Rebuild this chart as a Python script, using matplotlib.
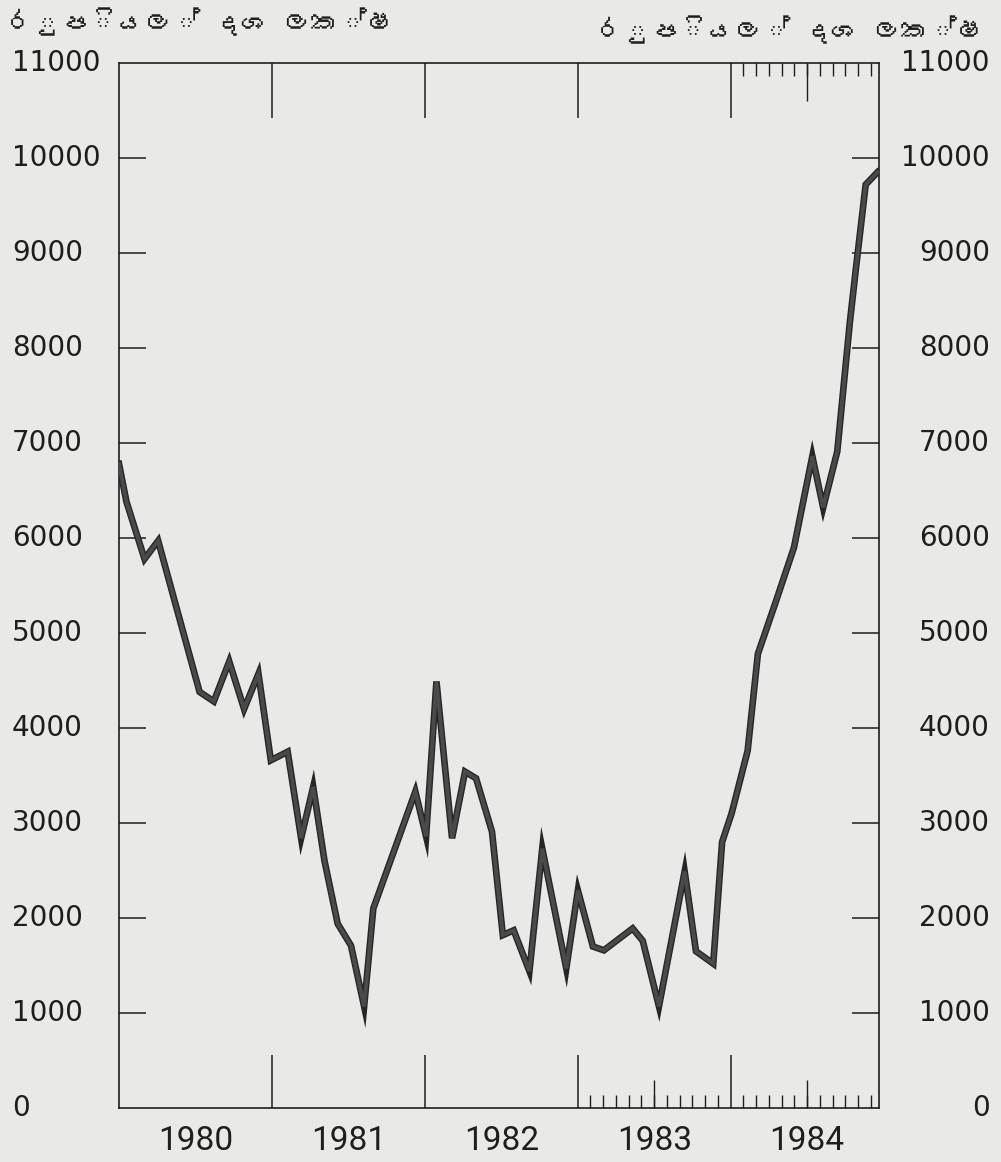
import matplotlib
matplotlib.use("Agg")
import matplotlib.pyplot as plt
import matplotlib.transforms as mtransforms
import matplotlib.patheffects as pe
from matplotlib import font_manager, ft2font

# ---------------- data ----------------
t_years = [1980.000, 1980.049, 1980.167, 1980.256, 1980.527, 1980.620, 1980.721,
           1980.818, 1980.912, 1980.993, 1981.103, 1981.191, 1981.270, 1981.344,
           1981.430, 1981.517, 1981.603, 1981.663, 1981.938, 1982.008, 1982.076,
           1982.178, 1982.263, 1982.335, 1982.439, 1982.510, 1982.581, 1982.684,
           1982.768, 1982.925, 1983.001, 1983.099, 1983.171, 1983.359, 1983.425,
           1983.531, 1983.699, 1983.773, 1983.886, 1983.944, 1984.006, 1984.111,
           1984.178, 1984.289, 1984.414, 1984.534, 1984.605, 1984.697, 1984.780,
           1984.820, 1984.883, 1984.960]
values = [6780, 6380, 5780, 5970, 4380, 4280, 4700,
          4200, 4570, 3660, 3750, 2840, 3380, 2600,
          1940, 1710, 1070, 2100, 3330, 2860, 4490,
          2840, 3540, 3470, 2910, 1820, 1870, 1440,
          2730, 1470, 2290, 1700, 1660, 1890, 1760,
          1070, 2490, 1650, 1520, 2800, 3100, 3760,
          4780, 5300, 5900, 6860, 6320, 6910, 8280,
          8850, 9720, 9850]

years = [1980, 1981, 1982, 1983, 1984]
year_labels = ["1980", "1981", "1982", "1983", "1984"]
y_ticks = list(range(0, 12000, 1000))
y_labels = [str(v) for v in y_ticks]
unit_label = "රුපියල් දශ ලක්ෂ"

# ---------------- fonts ----------------
def find_sinhala_font():
    for path in font_manager.findSystemFonts():
        try:
            cmap = ft2font.FT2Font(path).get_charmap()
        except Exception:
            continue
        if 0x0DBB in cmap and 0x0DC1 in cmap and 0x0DCA in cmap:
            return path
    return None

sin_path = find_sinhala_font()
if sin_path:
    font_manager.fontManager.addfont(sin_path)
    sin_family = [font_manager.FontProperties(fname=sin_path).get_name(), "DejaVu Sans"]
else:
    sin_family = ["DejaVu Sans"]

bg = "#e9e9e7"
ink = "#1e1e1e"

fig = plt.figure(figsize=(10.01, 11.62), dpi=100)
fig.patch.set_facecolor(bg)

W, H = 1001, 1162
left_px, right_px, top_px, bottom_px = 119, 879, 63, 1108
ax = fig.add_axes([left_px / W, 1 - bottom_px / H,
                   (right_px - left_px) / W, (bottom_px - top_px) / H])
ax.set_facecolor(bg)

ax.plot(t_years, values, color="#4a4a4a", lw=2.8, solid_joinstyle="miter",
        path_effects=[pe.Stroke(linewidth=4.8, foreground="#262626"), pe.Normal()],
        zorder=3)

ax.set_xlim(1980, 1984.97)
ax.set_ylim(0, 11000)

for s in ax.spines.values():
    s.set_linewidth(1.2)
    s.set_color(ink)

px = 72 / 100.0  # points per pixel

# y ticks (inward, both sides) - inner values only, ends coincide with the frame
ax.set_yticks(y_ticks[1:-1])
ax.tick_params(axis="y", which="major", direction="in", length=27 * px, width=1.1,
               color=ink, left=True, right=True, labelleft=False, labelright=False)

# bottom x ticks: year boundaries + monthly minors in 1983-84
ax.set_xticks(years[1:])
months_8384 = [1983 + k / 12 for k in range(1, 24) if k != 12]
ax.set_xticks(months_8384, minor=True)
ax.tick_params(axis="x", which="major", direction="in", length=53 * px, width=1.1,
               color=ink, labelbottom=False)
ax.tick_params(axis="x", which="minor", direction="in", length=13 * px, width=1.0,
               color=ink)

# bottom mid-year ticks
sec_b = ax.secondary_xaxis("bottom")
sec_b.set_xticks([1983.5, 1984.5])
sec_b.tick_params(direction="in", length=28 * px, width=1.0, color=ink, labelbottom=False)
for s in sec_b.spines.values():
    s.set_visible(False)

# top ticks
sec_t = ax.secondary_xaxis("top")
sec_t.set_xticks(years[1:])
sec_t.set_xticks([1984 + k / 12 for k in range(1, 12)], minor=True)
sec_t.tick_params(which="major", direction="in", length=55 * px, width=1.1, color=ink,
                  labeltop=False)
sec_t.tick_params(which="minor", direction="in", length=13 * px, width=1.0, color=ink)
for s in sec_t.spines.values():
    s.set_visible(False)
sec_t2 = ax.secondary_xaxis("top")
sec_t2.set_xticks([1984.5])
sec_t2.tick_params(direction="in", length=38 * px, width=1.0, color=ink, labeltop=False)
for s in sec_t2.spines.values():
    s.set_visible(False)

# y labels (left: left aligned, right: right aligned)
tr_left = mtransforms.blended_transform_factory(fig.transFigure, ax.transData)
for yv, lab in zip(y_ticks, y_labels):
    ax.text(12 / W, yv, lab, transform=tr_left, ha="left", va="center",
            fontsize=20, color=ink, family="DejaVu Sans")
    ax.text(990 / W, yv, lab, transform=tr_left, ha="right", va="center",
            fontsize=20, color=ink, family="DejaVu Sans")

# year labels centred in each year
tr_x = mtransforms.blended_transform_factory(ax.transData, fig.transFigure)
for yr, lab in zip(years, year_labels):
    ax.text(yr + 0.5, 1 - 1141 / H, lab, transform=tr_x, ha="center", va="center",
            fontsize=24, color=ink, family=["Roboto", "DejaVu Sans"])

# unit labels
fig.text(6 / W, 1 - 22 / H, unit_label, ha="left", va="center", fontsize=20,
         fontweight="bold", color=ink, family=sin_family)
fig.text(985 / W, 1 - 30 / H, unit_label, ha="right", va="center", fontsize=20,
         fontweight="bold", color=ink, family=sin_family)

fig.savefig("out.png", dpi=100, facecolor=bg)
